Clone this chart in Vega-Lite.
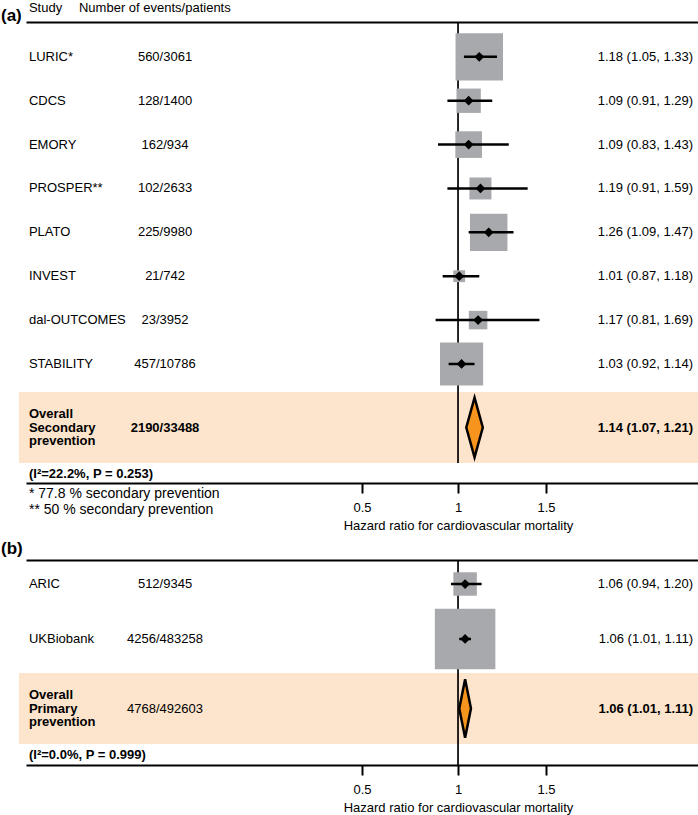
{
  "$schema": "https://vega.github.io/schema/vega-lite/v6.json",
  "padding": 0,
  "spacing": 0,
  "bounds": "flush",
  "resolve": {"scale": {"size": "independent"}},
  "datasets": {
    "one": [{"ref": 1}],
    "header_a": [{"panel": "(a)", "study": "Study", "events": "Number of events/patients"}],
    "header_b": [{"panel": "(b)"}],
    "a": [
      {"study": "LURIC*", "events": "560/3061", "hr": 1.18, "lower": 1.05, "upper": 1.33, "ci": "1.18 (1.05, 1.33)", "weight": 28.9},
      {"study": "CDCS", "events": "128/1400", "hr": 1.09, "lower": 0.91, "upper": 1.29, "ci": "1.09 (0.91, 1.29)", "weight": 7.6},
      {"study": "EMORY", "events": "162/934", "hr": 1.09, "lower": 0.83, "upper": 1.43, "ci": "1.09 (0.83, 1.43)", "weight": 9.1},
      {"study": "PROSPER**", "events": "102/2633", "hr": 1.19, "lower": 0.91, "upper": 1.59, "ci": "1.19 (0.91, 1.59)", "weight": 6.2},
      {"study": "PLATO", "events": "225/9980", "hr": 1.26, "lower": 1.09, "upper": 1.47, "ci": "1.26 (1.09, 1.47)", "weight": 18.0},
      {"study": "INVEST", "events": "21/742", "hr": 1.01, "lower": 0.87, "upper": 1.18, "ci": "1.01 (0.87, 1.18)", "weight": 1.8},
      {"study": "dal-OUTCOMES", "events": "23/3952", "hr": 1.17, "lower": 0.81, "upper": 1.69, "ci": "1.17 (0.81, 1.69)", "weight": 4.4},
      {"study": "STABILITY", "events": "457/10786", "hr": 1.03, "lower": 0.92, "upper": 1.14, "ci": "1.03 (0.92, 1.14)", "weight": 23.9}
    ],
    "oa": [
      {"label": "Overall\nSecondary\nprevention", "events": "2190/33488", "hr": 1.14, "lower": 1.07, "upper": 1.21, "ci": "1.14 (1.07, 1.21)", "het": "(I²=22.2%, P = 0.253)", "note": "* 77.8 % secondary prevention\n** 50 % secondary prevention"}
    ],
    "b": [
      {"study": "ARIC", "events": "512/9345", "hr": 1.06, "lower": 0.94, "upper": 1.20, "ci": "1.06 (0.94, 1.20)", "weight": 13.1},
      {"study": "UKBiobank", "events": "4256/483258", "hr": 1.06, "lower": 1.01, "upper": 1.11, "ci": "1.06 (1.01, 1.11)", "weight": 86.9}
    ],
    "ob": [
      {"label": "Overall\nPrimary\nprevention", "events": "4768/492603", "hr": 1.06, "lower": 1.01, "upper": 1.11, "ci": "1.06 (1.01, 1.11)", "het": "(I²=0.0%, P = 0.999)"}
    ]
  },
  "vconcat": [
    {
      "width": 673, "height": 22,
      "data": {"name": "header_a"},
      "layer": [
        {"mark": {"type": "text", "align": "left", "baseline": "middle", "fontSize": 17, "fontWeight": "bold", "dy": 5},
         "encoding": {"x": {"datum": -2.873, "type": "quantitative", "scale": {"domain": [-2.661, 3.042], "nice": false, "zero": false}, "axis": null}, "text": {"field": "panel"}}},
        {"mark": {"type": "text", "align": "left", "baseline": "middle", "fontSize": 13, "dy": -3.5},
         "encoding": {"x": {"datum": -2.636, "type": "quantitative", "scale": {"domain": [-2.661, 3.042], "nice": false, "zero": false}, "axis": null}, "text": {"field": "study"}}},
        {"mark": {"type": "text", "align": "left", "baseline": "middle", "fontSize": 13, "dy": -3.5},
         "encoding": {"x": {"datum": -2.212, "type": "quantitative", "scale": {"domain": [-2.661, 3.042], "nice": false, "zero": false}, "axis": null}, "text": {"field": "events"}}}
      ]
    },
    {
      "width": 673, "height": 370,
      "data": {"name": "a"},
      "layer": [
        {"data": {"name": "one"}, "mark": {"type": "rule", "color": "black", "strokeWidth": 1.7},
         "encoding": {"x": {"field": "ref", "type": "quantitative", "scale": {"domain": [-2.661, 3.042], "nice": false, "zero": false},
           "axis": {"orient": "top", "domain": true, "domainColor": "black", "domainWidth": 2, "ticks": false, "labels": false, "grid": false, "title": null}}}},
        {"mark": {"type": "point", "shape": "square", "filled": true, "color": "#a7a9ac", "opacity": 1},
         "encoding": {
           "x": {"field": "hr", "type": "quantitative", "scale": {"domain": [-2.661, 3.042], "nice": false, "zero": false}, "axis": {"orient": "top", "domain": true, "domainColor": "black", "domainWidth": 2, "ticks": false, "labels": false, "grid": false, "title": null}},
           "y": {"field": "study", "type": "nominal", "sort": null, "scale": {"paddingInner": 0, "paddingOuter": 0.2166, "align": 0.68}, "axis": null},
           "size": {"field": "weight", "type": "quantitative", "scale": {"domain": [0, 100], "range": [0, 7794]}, "legend": null}}},
        {"mark": {"type": "rule", "color": "black", "strokeWidth": 2.5},
         "encoding": {
           "x": {"field": "lower", "type": "quantitative", "scale": {"domain": [-2.661, 3.042], "nice": false, "zero": false}, "axis": {"orient": "top", "domain": true, "domainColor": "black", "domainWidth": 2, "ticks": false, "labels": false, "grid": false, "title": null}},
           "x2": {"field": "upper"},
           "y": {"field": "study", "type": "nominal", "sort": null, "axis": null}}},
        {"mark": {"type": "point", "shape": "diamond", "filled": true, "color": "black", "opacity": 1, "size": 95},
         "encoding": {
           "x": {"field": "hr", "type": "quantitative", "scale": {"domain": [-2.661, 3.042], "nice": false, "zero": false}, "axis": {"orient": "top", "domain": true, "domainColor": "black", "domainWidth": 2, "ticks": false, "labels": false, "grid": false, "title": null}},
           "y": {"field": "study", "type": "nominal", "sort": null, "axis": null}}},
        {"mark": {"type": "text", "align": "left", "baseline": "middle", "fontSize": 13},
         "encoding": {
           "x": {"datum": -2.636, "type": "quantitative", "scale": {"domain": [-2.661, 3.042], "nice": false, "zero": false}, "axis": {"orient": "top", "domain": true, "domainColor": "black", "domainWidth": 2, "ticks": false, "labels": false, "grid": false, "title": null}},
           "y": {"field": "study", "type": "nominal", "sort": null, "axis": null},
           "text": {"field": "study"}}},
        {"mark": {"type": "text", "align": "center", "baseline": "middle", "fontSize": 13},
         "encoding": {
           "x": {"datum": -1.483, "type": "quantitative", "scale": {"domain": [-2.661, 3.042], "nice": false, "zero": false}, "axis": {"orient": "top", "domain": true, "domainColor": "black", "domainWidth": 2, "ticks": false, "labels": false, "grid": false, "title": null}},
           "y": {"field": "study", "type": "nominal", "sort": null, "axis": null},
           "text": {"field": "events"}}},
        {"mark": {"type": "text", "align": "right", "baseline": "middle", "fontSize": 13},
         "encoding": {
           "x": {"datum": 2.992, "type": "quantitative", "scale": {"domain": [-2.661, 3.042], "nice": false, "zero": false}, "axis": {"orient": "top", "domain": true, "domainColor": "black", "domainWidth": 2, "ticks": false, "labels": false, "grid": false, "title": null}},
           "y": {"field": "study", "type": "nominal", "sort": null, "axis": null},
           "text": {"field": "ci"}}}
      ]
    },
    {
      "width": 673, "height": 71,
      "data": {"name": "oa"},
      "layer": [
        {"mark": {"type": "rect", "color": "#fde4cc", "opacity": 1},
         "encoding": {"x": {"datum": -2.72, "type": "quantitative", "scale": {"domain": [-2.661, 3.042], "nice": false, "zero": false}, "axis": null}, "x2": {"datum": 3.042}}},
        {"data": {"name": "one"}, "mark": {"type": "rule", "color": "black", "strokeWidth": 1.7},
         "encoding": {"x": {"field": "ref", "type": "quantitative", "scale": {"domain": [-2.661, 3.042], "nice": false, "zero": false}, "axis": null}}},
        {"mark": {"type": "point", "shape": "M0,-1L0.277,0L0,1L-0.277,0Z", "size": 3552, "filled": true, "color": "#f7941d", "stroke": "black", "strokeWidth": 2.5, "opacity": 1, "strokeJoin": "miter"},
         "encoding": {"x": {"field": "hr", "type": "quantitative", "scale": {"domain": [-2.661, 3.042], "nice": false, "zero": false}, "axis": null}}},
        {"mark": {"type": "text", "align": "left", "baseline": "middle", "fontSize": 13, "fontWeight": "bold", "lineBreak": "\n", "lineHeight": 13.5, "dy": -13.5},
         "encoding": {"x": {"datum": -2.636, "type": "quantitative", "scale": {"domain": [-2.661, 3.042], "nice": false, "zero": false}, "axis": null}, "text": {"field": "label"}}},
        {"mark": {"type": "text", "align": "center", "baseline": "middle", "fontSize": 13, "fontWeight": "bold"},
         "encoding": {"x": {"datum": -1.483, "type": "quantitative", "scale": {"domain": [-2.661, 3.042], "nice": false, "zero": false}, "axis": null}, "text": {"field": "events"}}},
        {"mark": {"type": "text", "align": "right", "baseline": "middle", "fontSize": 13, "fontWeight": "bold"},
         "encoding": {"x": {"datum": 2.992, "type": "quantitative", "scale": {"domain": [-2.661, 3.042], "nice": false, "zero": false}, "axis": null}, "text": {"field": "ci"}}}
      ]
    },
    {
      "width": 673, "height": 20,
      "data": {"name": "oa"},
      "layer": [
        {"mark": {"type": "text", "align": "left", "baseline": "middle", "fontSize": 13, "fontWeight": "bold", "dy": 1},
         "encoding": {"x": {"datum": -2.636, "type": "quantitative", "scale": {"domain": [-2.661, 3.042], "nice": false, "zero": false},
           "axis": {"orient": "bottom", "values": [0.186, 1, 1.746], "labelExpr": "datum.value < 0.6 ? '0.5' : (datum.value > 1.4 ? '1.5' : '1')", "domain": true, "domainColor": "black", "domainWidth": 2, "ticks": true, "tickColor": "black", "tickWidth": 2, "tickSize": 10, "labelFontSize": 13, "labelColor": "black", "labelPadding": 8.5, "labelOverlap": false, "labelFlush": false, "grid": false, "title": "Hazard ratio for cardiovascular mortality", "titleFontSize": 13, "titleFontWeight": "normal", "titleColor": "black", "titlePadding": 5, "titleX": 432, "titleAlign": "center"}},
           "text": {"field": "het"}}},
        {"mark": {"type": "text", "align": "left", "baseline": "middle", "fontSize": 14, "lineBreak": "\n", "lineHeight": 16, "dy": 21},
         "encoding": {"x": {"datum": -2.636, "type": "quantitative", "scale": {"domain": [-2.661, 3.042], "nice": false, "zero": false},
           "axis": {"orient": "bottom", "values": [0.186, 1, 1.746], "labelExpr": "datum.value < 0.6 ? '0.5' : (datum.value > 1.4 ? '1.5' : '1')", "domain": true, "domainColor": "black", "domainWidth": 2, "ticks": true, "tickColor": "black", "tickWidth": 2, "tickSize": 10, "labelFontSize": 13, "labelColor": "black", "labelPadding": 8.5, "labelOverlap": false, "labelFlush": false, "grid": false, "title": "Hazard ratio for cardiovascular mortality", "titleFontSize": 13, "titleFontWeight": "normal", "titleColor": "black", "titlePadding": 5, "titleX": 432, "titleAlign": "center"}},
           "text": {"field": "note"}}}
      ]
    },
    {
      "width": 673, "height": 77,
      "data": {"name": "header_b"},
      "layer": [
        {"mark": {"type": "text", "align": "left", "baseline": "middle", "fontSize": 17, "fontWeight": "bold", "dy": 27.5},
         "encoding": {"x": {"datum": -2.873, "type": "quantitative", "scale": {"domain": [-2.661, 3.042], "nice": false, "zero": false}, "axis": null}, "text": {"field": "panel"}}}
      ]
    },
    {
      "width": 673, "height": 113,
      "data": {"name": "b"},
      "layer": [
        {"data": {"name": "one"}, "mark": {"type": "rule", "color": "black", "strokeWidth": 1.7},
         "encoding": {"x": {"field": "ref", "type": "quantitative", "scale": {"domain": [-2.661, 3.042], "nice": false, "zero": false},
           "axis": {"orient": "top", "domain": true, "domainColor": "black", "domainWidth": 2, "ticks": false, "labels": false, "grid": false, "title": null}}}},
        {"mark": {"type": "point", "shape": "square", "filled": true, "color": "#a7a9ac", "opacity": 1},
         "encoding": {
           "x": {"field": "hr", "type": "quantitative", "scale": {"domain": [-2.661, 3.042], "nice": false, "zero": false}, "axis": {"orient": "top", "domain": true, "domainColor": "black", "domainWidth": 2, "ticks": false, "labels": false, "grid": false, "title": null}},
           "y": {"field": "study", "type": "nominal", "sort": null, "scale": {"paddingInner": 0.127, "paddingOuter": 0.091, "align": 0}, "axis": null},
           "size": {"field": "weight", "type": "quantitative", "scale": {"domain": [0, 100], "range": [0, 4212]}, "legend": null}}},
        {"mark": {"type": "rule", "color": "black", "strokeWidth": 2.5},
         "encoding": {
           "x": {"field": "lower", "type": "quantitative", "scale": {"domain": [-2.661, 3.042], "nice": false, "zero": false}, "axis": {"orient": "top", "domain": true, "domainColor": "black", "domainWidth": 2, "ticks": false, "labels": false, "grid": false, "title": null}},
           "x2": {"field": "upper"},
           "y": {"field": "study", "type": "nominal", "sort": null, "axis": null}}},
        {"mark": {"type": "point", "shape": "diamond", "filled": true, "color": "black", "opacity": 1, "size": 95},
         "encoding": {
           "x": {"field": "hr", "type": "quantitative", "scale": {"domain": [-2.661, 3.042], "nice": false, "zero": false}, "axis": {"orient": "top", "domain": true, "domainColor": "black", "domainWidth": 2, "ticks": false, "labels": false, "grid": false, "title": null}},
           "y": {"field": "study", "type": "nominal", "sort": null, "axis": null}}},
        {"mark": {"type": "text", "align": "left", "baseline": "middle", "fontSize": 13},
         "encoding": {
           "x": {"datum": -2.636, "type": "quantitative", "scale": {"domain": [-2.661, 3.042], "nice": false, "zero": false}, "axis": {"orient": "top", "domain": true, "domainColor": "black", "domainWidth": 2, "ticks": false, "labels": false, "grid": false, "title": null}},
           "y": {"field": "study", "type": "nominal", "sort": null, "axis": null},
           "text": {"field": "study"}}},
        {"mark": {"type": "text", "align": "center", "baseline": "middle", "fontSize": 13},
         "encoding": {
           "x": {"datum": -1.483, "type": "quantitative", "scale": {"domain": [-2.661, 3.042], "nice": false, "zero": false}, "axis": {"orient": "top", "domain": true, "domainColor": "black", "domainWidth": 2, "ticks": false, "labels": false, "grid": false, "title": null}},
           "y": {"field": "study", "type": "nominal", "sort": null, "axis": null},
           "text": {"field": "events"}}},
        {"mark": {"type": "text", "align": "right", "baseline": "middle", "fontSize": 13},
         "encoding": {
           "x": {"datum": 2.992, "type": "quantitative", "scale": {"domain": [-2.661, 3.042], "nice": false, "zero": false}, "axis": {"orient": "top", "domain": true, "domainColor": "black", "domainWidth": 2, "ticks": false, "labels": false, "grid": false, "title": null}},
           "y": {"field": "study", "type": "nominal", "sort": null, "axis": null},
           "text": {"field": "ci"}}}
      ]
    },
    {
      "width": 673, "height": 71,
      "data": {"name": "ob"},
      "layer": [
        {"mark": {"type": "rect", "color": "#fde4cc", "opacity": 1},
         "encoding": {"x": {"datum": -2.72, "type": "quantitative", "scale": {"domain": [-2.661, 3.042], "nice": false, "zero": false}, "axis": null}, "x2": {"datum": 3.042}}},
        {"data": {"name": "one"}, "mark": {"type": "rule", "color": "black", "strokeWidth": 1.7},
         "encoding": {"x": {"field": "ref", "type": "quantitative", "scale": {"domain": [-2.661, 3.042], "nice": false, "zero": false}, "axis": null}}},
        {"mark": {"type": "point", "shape": "M0,-1L0.2,0L0,1L-0.2,0Z", "size": 3434, "filled": true, "color": "#f7941d", "stroke": "black", "strokeWidth": 2.5, "opacity": 1, "strokeJoin": "miter"},
         "encoding": {"x": {"field": "hr", "type": "quantitative", "scale": {"domain": [-2.661, 3.042], "nice": false, "zero": false}, "axis": null}}},
        {"mark": {"type": "text", "align": "left", "baseline": "middle", "fontSize": 13, "fontWeight": "bold", "lineBreak": "\n", "lineHeight": 13.5, "dy": -13.5},
         "encoding": {"x": {"datum": -2.636, "type": "quantitative", "scale": {"domain": [-2.661, 3.042], "nice": false, "zero": false}, "axis": null}, "text": {"field": "label"}}},
        {"mark": {"type": "text", "align": "center", "baseline": "middle", "fontSize": 13},
         "encoding": {"x": {"datum": -1.483, "type": "quantitative", "scale": {"domain": [-2.661, 3.042], "nice": false, "zero": false}, "axis": null}, "text": {"field": "events"}}},
        {"mark": {"type": "text", "align": "right", "baseline": "middle", "fontSize": 13, "fontWeight": "bold"},
         "encoding": {"x": {"datum": 2.992, "type": "quantitative", "scale": {"domain": [-2.661, 3.042], "nice": false, "zero": false}, "axis": null}, "text": {"field": "ci"}}}
      ]
    },
    {
      "width": 673, "height": 21,
      "data": {"name": "ob"},
      "layer": [
        {"data": {"name": "one"}, "mark": {"type": "rule", "color": "black", "strokeWidth": 1.7},
         "encoding": {"x": {"field": "ref", "type": "quantitative", "scale": {"domain": [-2.661, 3.042], "nice": false, "zero": false},
           "axis": {"orient": "bottom", "values": [0.186, 1, 1.746], "labelExpr": "datum.value < 0.6 ? '0.5' : (datum.value > 1.4 ? '1.5' : '1')", "domain": true, "domainColor": "black", "domainWidth": 2, "ticks": true, "tickColor": "black", "tickWidth": 2, "tickSize": 10, "labelFontSize": 13, "labelColor": "black", "labelPadding": 8.5, "labelOverlap": false, "labelFlush": false, "grid": false, "title": "Hazard ratio for cardiovascular mortality", "titleFontSize": 13, "titleFontWeight": "normal", "titleColor": "black", "titlePadding": 5, "titleX": 432, "titleAlign": "center"}}}},
        {"mark": {"type": "text", "align": "left", "baseline": "middle", "fontSize": 13, "fontWeight": "bold"},
         "encoding": {"x": {"datum": -2.636, "type": "quantitative", "scale": {"domain": [-2.661, 3.042], "nice": false, "zero": false},
           "axis": {"orient": "bottom", "values": [0.186, 1, 1.746], "labelExpr": "datum.value < 0.6 ? '0.5' : (datum.value > 1.4 ? '1.5' : '1')", "domain": true, "domainColor": "black", "domainWidth": 2, "ticks": true, "tickColor": "black", "tickWidth": 2, "tickSize": 10, "labelFontSize": 13, "labelColor": "black", "labelPadding": 8.5, "labelOverlap": false, "labelFlush": false, "grid": false, "title": "Hazard ratio for cardiovascular mortality", "titleFontSize": 13, "titleFontWeight": "normal", "titleColor": "black", "titlePadding": 5, "titleX": 432, "titleAlign": "center"}},
           "text": {"field": "het"}}}
      ]
    }
  ],
  "config": {
    "view": {"stroke": null},
    "font": "Liberation Sans",
    "text": {"font": "Liberation Sans", "color": "black"},
    "axis": {"labelFont": "Liberation Sans", "titleFont": "Liberation Sans"}
  }
}
